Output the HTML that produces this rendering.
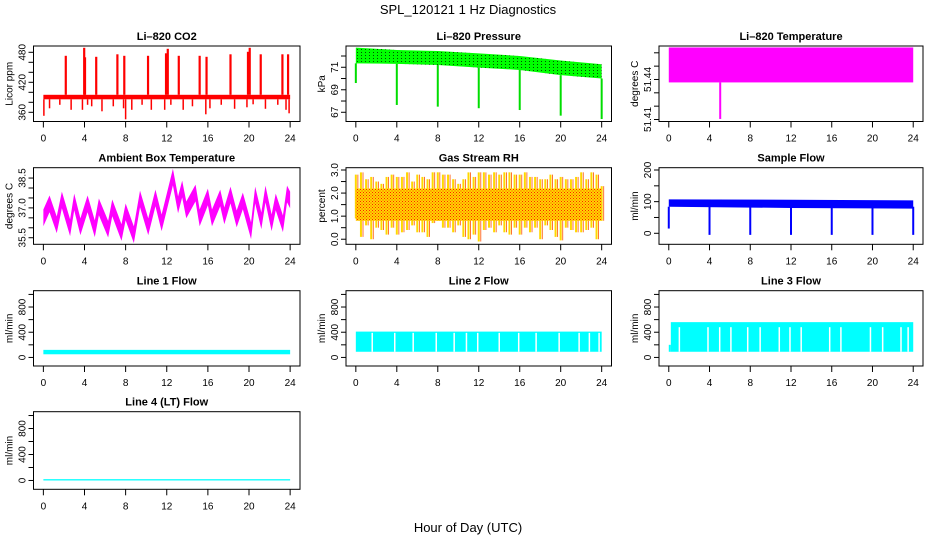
<!DOCTYPE html>
<html><head><meta charset="utf-8">
<style>
html,body{margin:0;padding:0;background:#fff;}
svg{display:block;font-family:"Liberation Sans",Arial,sans-serif;}
</style></head>
<body>
<svg id="chart" width="936" height="540" viewBox="0 0 936 540" xmlns="http://www.w3.org/2000/svg">
<defs>
<pattern id="rhpat" width="3" height="3" patternUnits="userSpaceOnUse"><rect width="3" height="3" fill="#ffd800"/><rect x="0" y="0" width="1" height="1" fill="#ff2000"/><rect x="1.5" y="1.5" width="1" height="1" fill="#ff3000"/></pattern>
<pattern id="prpat" width="4" height="3" patternUnits="userSpaceOnUse"><rect width="4" height="3" fill="#00ff00"/><rect x="1" y="1" width="1" height="1" fill="#005000"/></pattern>
</defs>
<text x="468" y="14" text-anchor="middle" font-size="13">SPL_120121  1 Hz Diagnostics</text>
<text x="468" y="532" text-anchor="middle" font-size="13">Hour of Day (UTC)</text>
</svg>
<script>
// ---- data ----
const hourTicks=[0,4,8,12,16,20,24];
// CO2
const co2BaseLo=386, co2BaseHi=395;
const co2SpikeT=[2.18,3.97,4.05,5.14,7.2,7.87,10.18,11.93,12.1,13.17,15.2,15.87,18.2,19.9,20.07,21.14,23.25,23.8];
const co2SpikeV=[473,489,470,471,476,473,473,478,487,473,473,471,476,481,489,476,476,476];
const co2DipT=[0.05,0.6,1.6,2.7,3.8,4.3,4.7,5.7,6.8,7.8,8.0,8.6,9.6,10.5,11.8,12.4,13.6,14.5,15.8,16.2,17.3,18.6,19.8,20.4,21.6,22.8,23.6,23.9];
const co2DipV=[353,368,375,365,365,375,372,362,372,368,346,365,375,365,365,375,365,372,356,368,375,367,370,376,367,375,365,358];
// Pressure
const presT=[0,4,8,12,16,20,24];
const presTop=[72.75,72.54,72.45,72.24,72.0,71.6,71.27];
const presBot=[71.35,71.3,71.2,70.97,70.76,70.3,70.0];
const presDipT=[0,4,8,12,16,20,24];
const presDipV=[69.6,67.65,67.5,67.36,67.2,66.7,66.4];
// Li-820 temperature
const tempLo=51.4378, tempHi=51.464;
const tempDipT=[5.05], tempDipV=[51.4104];
// Ambient box temperature (centerline, band half width)
const ambT=[0,0.6,1.3,1.8,2.6,3.0,3.6,4.3,5.0,5.4,6.3,6.7,7.6,8.0,8.8,9.4,10.2,10.9,11.5,12.6,13.1,13.5,13.9,14.8,15.2,16.0,16.4,17.2,17.6,18.2,18.8,19.4,20.2,20.6,21.2,21.6,22.2,22.6,23.3,23.7,24];
const ambV=[36.5,37.2,36.15,37.4,36.0,37.3,36.05,37.2,35.95,37.05,35.93,37.0,35.76,36.8,35.65,37.45,36.05,37.5,36.25,38.55,37.15,37.95,36.9,37.75,36.5,37.55,36.5,37.5,36.6,37.65,36.45,37.35,35.85,37.65,36.35,37.7,36.25,37.3,36.2,37.7,37.4];
const ambHalf=0.42;
// Gas stream RH (half-hour extremes, core band)
const rhHi=[2.8,2.9,2.6,2.7,2.5,2.4,2.7,2.8,2.7,2.7,2.9,2.5,2.8,2.7,2.6,2.9,2.9,2.8,2.8,2.6,2.4,2.6,2.9,2.7,2.9,2.9,2.8,2.9,2.8,2.9,2.9,2.8,2.8,2.9,2.7,2.7,2.6,2.6,2.8,2.6,2.7,2.6,2.6,2.7,2.9,2.6,2.9,2.8,2.3];
const rhLo=[0.9,0.1,0.6,0.0,0.5,0.4,0.2,0.5,0.2,0.3,0.4,0.6,0.3,0.3,0.1,0.7,0.8,0.5,0.5,0.3,0.6,0.1,0.0,0.2,-0.1,0.4,0.5,0.3,0.6,0.3,0.2,0.5,0.2,0.5,0.3,0.5,0.0,0.6,0.4,0.1,-0.05,0.5,0.4,0.3,0.3,0.4,0.5,0.0,0.8];
const rhCoreLo=0.8, rhCoreHi=2.2;
// Sample flow
const sfT=[0,12,24];
const sfTop=[107,106,104];
const sfBot=[84,80,78];
const sfDipT=[0,4,8,12,16,20,24];
const sfDipV=[15,-5,-5,-5,-5,-5,-5];
// Line flows
const l1Lo=50, l1Hi=120;
const l2Lo=90, l2Hi=410;
const l2GapT=[1.6,3.8,5.6,7.85,9.6,10.8,11.9,14.0,15.9,17.6,19.85,21.8,22.8,23.75];
const l3Lo=90, l3Hi=560, l3StartHi=200;
const l3GapT=[1.04,3.85,5.0,6.1,7.75,8.97,10.85,11.9,13.0,15.8,16.9,19.8,21.0,22.8,23.5];
const l4Lo=0, l4Hi=20;

// ---- drawing ----
const NS="http://www.w3.org/2000/svg";
const svg=document.getElementById('chart');
const cols=[[33.5,300],[346,611.5],[659,923]];
const rows=[[46,121.5],[167.7,244.3],[290.7,366],[411.7,489.3]];
function mk(tag,attrs,parent){const e=document.createElementNS(NS,tag);for(const k in attrs)e.setAttribute(k,attrs[k]);(parent||svg).appendChild(e);return e;}
function panel(c,r,yb,yt,ticks,labs,title,ylab,name){
  const [L,R]=cols[c],[T,B]=rows[r];
  const g=mk('g',{});
  
  
  const x=t=>L+(t+0.96)/25.92*(R-L);
  const y=v=>B-(v-yb)/(yt-yb)*(B-T);
  const plot=mk('g',{},g);
  
  
  const frame=mk('rect',{x:L,y:T,width:R-L,height:B-T,fill:'none',stroke:'#000','stroke-width':1},g);
  
  
  const tt=mk('text',{x:(L+R)/2,y:T-6,'text-anchor':'middle','font-size':11,'font-weight':'bold'},g);
  tt.textContent=title;
  
  
  const yl=mk('text',{transform:`translate(${L-21},${(T+B)/2}) rotate(-90)`,'text-anchor':'middle','font-size':10},g);
  yl.textContent=ylab;
  
  
  const xa=mk('g',{},g);
  
  
  hourTicks.forEach(h=>{mk('line',{x1:x(h),x2:x(h),y1:B,y2:B+6,stroke:'#000'},xa);
    const t=mk('text',{x:x(h),y:B+20,'text-anchor':'middle','font-size':10},xa);t.textContent=h;});
  const ya=mk('g',{},g);
  
  
  ticks.forEach(v=>mk('line',{x1:L-5,x2:L,y1:y(v),y2:y(v),stroke:'#000'},ya));
  labs.forEach(v=>{const t=mk('text',{transform:`translate(${L-8},${y(v[0])}) rotate(-90)`,'text-anchor':'middle','font-size':10},ya);t.textContent=v[1];});
  return {x,y,g:plot};
}
function vline(p,t,v1,v2,col,w){return mk('line',{x1:p.x(t),x2:p.x(t),y1:p.y(v1),y2:p.y(v2),stroke:col,'stroke-width':w||2},p.g);}
function band(p,t1,t2,lo,hi,fill){return mk('rect',{x:p.x(t1),y:p.y(hi),width:p.x(t2)-p.x(t1),height:p.y(lo)-p.y(hi),fill:fill},p.g);}
function poly(p,ts,tops,bots,fill){
  let pts=ts.map((t,i)=>p.x(t)+','+p.y(tops[i]));
  pts=pts.concat(ts.map((t,i)=>p.x(t)+','+p.y(bots[i])).reverse());
  return mk('polygon',{points:pts.join(' '),fill:fill},p.g);
}
function rng(a,b,s){const o=[];for(let v=a;v<=b+1e-9;v+=s)o.push(+v.toFixed(4));return o;}
function L2(vals,fmt){return vals.map(v=>[v,fmt(v)]);}

// CO2
let p=panel(0,0,341.6,492.6,rng(360,480,20),L2([360,420,480],String),'Li\u2013820 CO2','Licor ppm','co2');
band(p,0,24,co2BaseLo,co2BaseHi,'#ff0000');
co2SpikeT.forEach((t,i)=>vline(p,t,co2BaseHi,co2SpikeV[i],'#ff0000',2.2));
co2DipT.forEach((t,i)=>vline(p,t,co2BaseLo,co2DipV[i],'#ff0000',1.5));
// Pressure
p=panel(1,0,66.18,72.89,rng(67,72,1),L2([67,69,71],String),'Li\u2013820 Pressure','kPa','pressure');
poly(p,presT,presTop,presBot,'url(#prpat)');
presDipT.forEach((t,i)=>vline(p,t,presBot[i],presDipV[i],'#00dd00',2));
// Temperature
p=panel(2,0,51.4085,51.4651,rng(51.41,51.46,0.01),L2([51.41,51.44],v=>v.toFixed(2)),'Li\u2013820 Temperature','degrees C','li820-temp');
band(p,0,24,tempLo,tempHi,'#ff00ff');
tempDipT.forEach((t,i)=>vline(p,t,tempLo,tempDipV[i],'#ff00ff',2));
// Ambient
p=panel(0,1,35.17,39.02,rng(35.5,38.5,0.5),L2([35.5,37.0,38.5],v=>v.toFixed(1)),'Ambient Box Temperature','degrees C','ambient-temp');
poly(p,ambT,ambV.map(v=>v+ambHalf),ambV.map(v=>v-ambHalf),'#ff00ff');
// RH
p=panel(1,1,-0.22,3.1,rng(0,3,0.5),L2([0,1,2,3],v=>v.toFixed(1)),'Gas Stream RH','percent','gas-rh');
rhHi.forEach((v,i)=>{vline(p,i*0.5,rhLo[i],v,'#ffd800',2);vline(p,i*0.5+0.2,rhLo[i],v,'#ff5000',0.8);});
band(p,0,24,rhCoreLo,rhCoreHi,'url(#rhpat)');
// Sample flow
p=panel(2,1,-34.8,207.3,rng(0,200,50),L2([0,100,200],String),'Sample Flow','ml/min','sample-flow');
poly(p,sfT,sfTop,sfBot,'#0000ff');
sfDipT.forEach((t,i)=>vline(p,t,sfBot[0],sfDipV[i],'#0000ff',2));
// Line flows
const lt=rng(0,1000,200), ll=L2([0,400,800],String);
p=panel(0,2,-136,1059,lt,ll,'Line 1 Flow','ml/min','line1-flow');
band(p,0,24,l1Lo,l1Hi,'#00ffff');
p=panel(1,2,-136,1059,lt,ll,'Line 2 Flow','ml/min','line2-flow');
band(p,0,24,l2Lo,l2Hi,'#00ffff');
l2GapT.forEach(t=>vline(p,t,l2Lo,l2Hi-20,'#ffffff',1.5));
p=panel(2,2,-136,1059,lt,ll,'Line 3 Flow','ml/min','line3-flow');
band(p,0,0.2,l3Lo,l3StartHi,'#00ffff');
band(p,0.2,24,l3Lo,l3Hi,'#00ffff');
l3GapT.forEach(t=>vline(p,t,l3Lo,l3Hi-80,'#ffffff',1.5));
p=panel(0,3,-136,1059,lt,ll,'Line 4 (LT) Flow','ml/min','line4-flow');
band(p,0,24,l4Lo,l4Hi,'#00ffff');
</script>
</body></html>
